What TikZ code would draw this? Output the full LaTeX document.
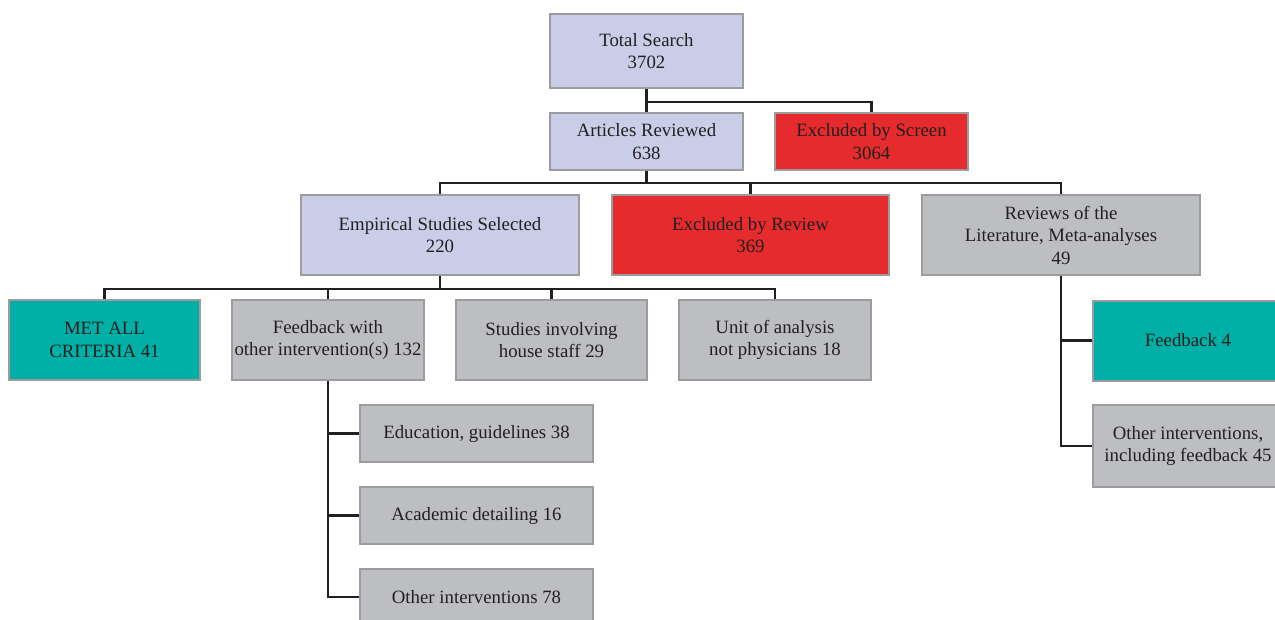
\documentclass[tikz,border=0pt]{standalone}
\usepackage{fontspec}
\setmainfont{Liberation Serif}
\definecolor{lav}{HTML}{C9CDE8}
\definecolor{gry}{HTML}{BDBEC2}
\definecolor{rd}{HTML}{E52B2D}
\definecolor{tl}{HTML}{00AFA6}
\definecolor{bd}{HTML}{9C9C9F}
\definecolor{ln}{HTML}{231F20}
\definecolor{tx}{HTML}{231F20}
\tikzset{
  box/.style={draw=bd, line width=2pt, align=center, inner sep=0pt, text=tx,
    font=\fontsize{18.8}{22.5}\selectfont},
  lavbox/.style={box, fill=lav},
  grybox/.style={box, fill=gry},
  redbox/.style={box, fill=rd},
  tealbox/.style={box, fill=tl},
  conn/.style={draw=ln, line width=2.8pt},
}
\begin{document}
\begin{tikzpicture}[x=1pt,y=-1pt]
\clip (0,0) rectangle (1275,619);
\fill[white] (0,0) rectangle (1275,619);
% nodes
\node[lavbox, minimum width=193pt, minimum height=74pt] (ts) at (646.5,51) {Total Search\\3702};
\node[lavbox, minimum width=193pt, minimum height=57pt] (ar) at (646.5,141.5) {Articles Reviewed\\638};
\node[redbox, minimum width=193pt, minimum height=57pt] (es) at (871.5,141.5) {Excluded by Screen\\3064};
\node[lavbox, minimum width=278pt, minimum height=80pt] (emp) at (440,235) {Empirical Studies Selected\\220};
\node[redbox, minimum width=277pt, minimum height=80pt] (exr) at (750.5,235) {Excluded by Review\\369};
\node[grybox, minimum width=278pt, minimum height=80pt] (rev) at (1061,235) {Reviews of the\\Literature, Meta-analyses\\49};
\node[tealbox, minimum width=191pt, minimum height=80pt] (met) at (104.5,340) {MET ALL\\CRITERIA 41};
\node[grybox, minimum width=192pt, minimum height=80pt] (fb) at (328,340) {Feedback with\\other intervention(s) 132};
\node[grybox, minimum width=191pt, minimum height=80pt] (hs) at (551.5,340) {Studies involving\\house staff 29};
\node[grybox, minimum width=192pt, minimum height=80pt] (ua) at (775,340) {Unit of analysis\\not physicians 18};
\node[grybox, minimum width=233pt, minimum height=57pt] (edu) at (476.5,433.5) {Education, guidelines 38};
\node[grybox, minimum width=233pt, minimum height=57pt] (acad) at (476.5,515.5) {Academic detailing 16};
\node[grybox, minimum width=233pt, minimum height=57pt] (oth) at (476.5,597) {Other interventions 78};
\node[tealbox, minimum width=190pt, minimum height=80pt] (fbf) at (1188,340.5) {Feedback 4};
\node[grybox, minimum width=190pt, minimum height=82pt] (oi) at (1188,446) {Other interventions,\\including feedback 45};
% connectors
\draw[conn] (ts.south) -- (ar.north);
\draw[conn] (ts.south) -- ++(0,13) coordinate (j0) -| (es.north);
\draw[conn] (ar.south) -- ++(0,12) coordinate (j1);
\draw[conn] (j1) -| (emp.north);
\draw[conn] (j1) -| (exr.north);
\draw[conn] (j1) -| (rev.north);
\draw[conn] (emp.south) -- ++(0,13) coordinate (j2);
\draw[conn] (j2) -| (met.north);
\draw[conn] (j2) -| (fb.north);
\draw[conn] (j2) -| (hs.north);
\draw[conn] (j2) -| (ua.north);
\draw[conn] (fb.south) |- (edu.west);
\draw[conn] (fb.south) |- (acad.west);
\draw[conn] (fb.south) |- (oth.west);
\draw[conn] (rev.south) |- (fbf.west);
\draw[conn] (rev.south) |- (oi.west);
\end{tikzpicture}
\end{document}
